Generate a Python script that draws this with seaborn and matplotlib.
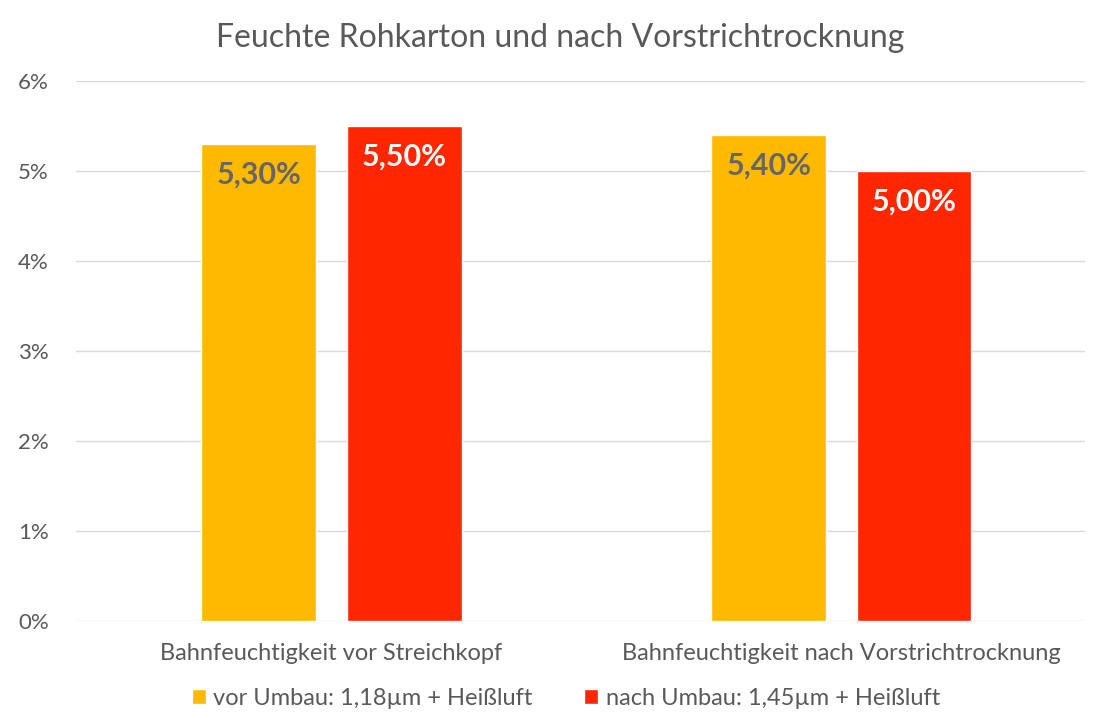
import seaborn as sns
import matplotlib.pyplot as plt
import pandas as pd

categories = ["Bahnfeuchtigkeit vor Streichkopf", "Bahnfeuchtigkeit nach Vorstrichtrocknung"]
series_names = ["vor Umbau: 1,18µm + Heißluft", "nach Umbau: 1,45µm + Heißluft"]
vor_umbau = [5.30, 5.40]
nach_umbau = [5.50, 5.00]

df = pd.DataFrame({
    "kategorie": categories * 2,
    "serie": [series_names[0]] * 2 + [series_names[1]] * 2,
    "wert": vor_umbau + nach_umbau,
})

sns.set_theme(style="white")
plt.rcParams["font.family"] = ["Lato", "DejaVu Sans"]

my_pal = {series_names[0]: "#FFBA00", series_names[1]: "#FF2600"}
grey = "#595959"

fig = plt.figure(figsize=(10.99, 7.18), dpi=100)
ax = fig.add_axes([0.0696, 0.135, 0.918, 0.752])

sns.barplot(data=df, x="kategorie", y="wert", hue="serie", palette=my_pal,
            width=0.57, gap=0.21, saturation=1, ax=ax, zorder=3)

ax.set_ylim(0, 6)
ax.set_xlim(-0.5, -0.5 + 2 * 0.918 / 0.928)
ax.set_yticks(range(0, 7))
ax.set_yticklabels([f"{i}%" for i in range(0, 7)], color=grey, fontsize=16)
ax.tick_params(axis="x", labelsize=17, labelcolor=grey, pad=16, length=0)
ax.tick_params(axis="y", length=0, pad=20)
ax.grid(axis="y", color="#d9d9d9", linewidth=1, zorder=0)
ax.set_xlabel("")
ax.set_ylabel("")
for s in ax.spines.values():
    s.set_visible(False)

label_colors = ["#666666", "white"]
for cont, col in zip(ax.containers, label_colors):
    ax.bar_label(cont, labels=[f"{v:.2f}%".replace(".", ",") for v in cont.datavalues],
                 padding=-32, color=col, fontsize=22, fontweight="bold")

ax.legend(loc="upper center", bbox_to_anchor=(0.485, -0.085), ncol=2, frameon=False,
          handlelength=0.6, handleheight=0.6, handletextpad=0.3, columnspacing=2.2,
          fontsize=17, labelcolor=grey)

fig.suptitle("Feuchte Rohkarton und nach Vorstrichtrocknung", x=0.51, y=0.968,
             fontsize=23, color=grey)

fig.savefig("out.png", dpi=100)
